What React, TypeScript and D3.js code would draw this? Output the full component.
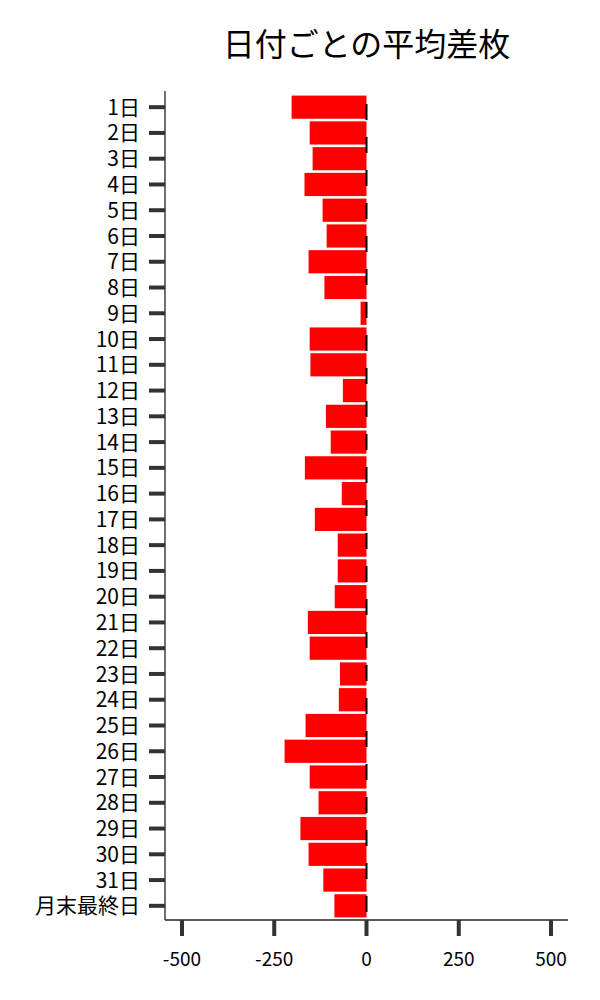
import { useEffect, useRef } from "react";
import * as d3 from "d3";

const days = [
	"1日", "2日", "3日", "4日", "5日", "6日", "7日", "8日", "9日", "10日",
	"11日", "12日", "13日", "14日", "15日", "16日", "17日", "18日", "19日", "20日",
	"21日", "22日", "23日", "24日", "25日", "26日", "27日", "28日", "29日", "30日",
	"31日", "月末最終日",
];
const avgDiff = [
	-203, -154, -146, -168, -119, -108, -157, -114, -16, -154,
	-152, -64, -110, -97, -167, -67, -140, -78, -78, -86,
	-159, -154, -72, -75, -165, -222, -154, -130, -179, -157,
	-117, -87,
];
const xTicks = [-500, -250, 0, 250, 500];
const title = "日付ごとの平均差枚";

export default function App() {
	const ref = useRef<SVGSVGElement>(null);

	useEffect(() => {
		if (!ref.current) return;
		const svg = d3.select(ref.current);
		svg.selectAll("*").remove();

		const font = "'Noto Sans CJK JP', 'Noto Sans', sans-serif";
		const left = 165;
		const right = 568;
		const top = 93;
		const bottom = 920;

		const x = d3.scaleLinear().domain([-546, 546]).range([left, right]);
		const y = d3.scaleBand().domain(days).range([top, bottom]).padding(0.1);

		// bars
		svg
			.append("g")
			.selectAll("rect")
			.data(days)
			.join("rect")
			.attr("x", (_, i) => x(Math.min(0, avgDiff[i])))
			.attr("width", (_, i) => Math.abs(x(avgDiff[i]) - x(0)))
			.attr("y", (d) => y(d) as number)
			.attr("height", y.bandwidth())
			.attr("fill", "#ff0000");

		// dashed zero line
		svg
			.append("line")
			.attr("x1", x(0))
			.attr("x2", x(0))
			.attr("y1", top + 11)
			.attr("y2", bottom)
			.attr("stroke", "#000")
			.attr("stroke-width", 2)
			.attr("stroke-dasharray", "16,17");

		// axes lines
		svg
			.append("line")
			.attr("x1", left)
			.attr("x2", left)
			.attr("y1", top - 2)
			.attr("y2", bottom)
			.attr("stroke", "#222")
			.attr("stroke-width", 1.3);
		svg
			.append("line")
			.attr("x1", left)
			.attr("x2", right)
			.attr("y1", bottom)
			.attr("y2", bottom)
			.attr("stroke", "#222")
			.attr("stroke-width", 1.3);

		// y ticks + labels
		const yg = svg.append("g");
		yg.selectAll("line")
			.data(days)
			.join("line")
			.attr("x1", left - 16)
			.attr("x2", left)
			.attr("y1", (d) => (y(d) as number) + y.bandwidth() / 2)
			.attr("y2", (d) => (y(d) as number) + y.bandwidth() / 2)
			.attr("stroke", "#333")
			.attr("stroke-width", 4);
		yg.selectAll("text")
			.data(days)
			.join("text")
			.attr("x", left - 25)
			.attr("y", (d) => (y(d) as number) + y.bandwidth() / 2)
			.attr("dy", "0.36em")
			.attr("text-anchor", "end")
			.attr("font-family", font)
			.attr("font-size", 21)
			.attr("fill", "#000")
			.text((d) => d);

		// x ticks + labels
		const xg = svg.append("g");
		xg.selectAll("line")
			.data(xTicks)
			.join("line")
			.attr("x1", (d) => x(d))
			.attr("x2", (d) => x(d))
			.attr("y1", bottom)
			.attr("y2", bottom + 16)
			.attr("stroke", "#333")
			.attr("stroke-width", 4);
		xg.selectAll("text")
			.data(xTicks)
			.join("text")
			.attr("x", (d) => x(d))
			.attr("y", bottom + 46)
			.attr("text-anchor", "middle")
			.attr("font-family", font)
			.attr("font-size", 19)
			.attr("fill", "#000")
			.text((d) => String(d));

		// title
		svg
			.append("text")
			.attr("x", (left + right) / 2)
			.attr("y", 56)
			.attr("text-anchor", "middle")
			.attr("font-family", font)
			.attr("font-size", 32)
			.attr("fill", "#000")
			.text(title);
	}, []);

	return (
		<svg
			ref={ref}
			width={600}
			height={1000}
			style={{ position: "absolute", left: 0, top: 0, background: "#fff" }}
		/>
	);
}
